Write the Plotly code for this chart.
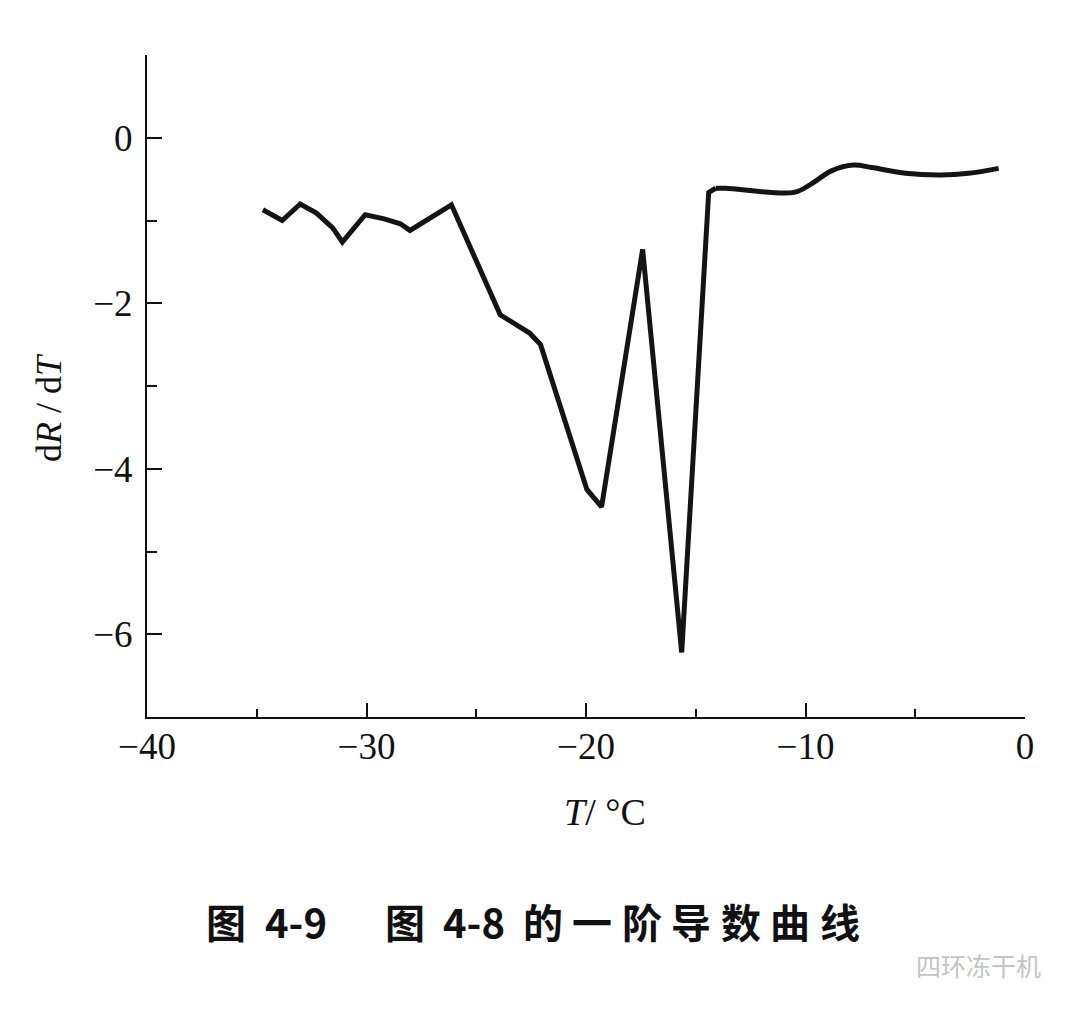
import plotly.graph_objects as go

# Jagged (linear) part of the curve
T_lin = [-34.72, -33.84, -33.02, -32.28, -31.54, -31.10, -30.06, -29.19, -28.46, -28.02,
         -26.13, -23.91, -22.57, -22.07, -19.96, -19.29, -17.42, -15.64, -14.41, -14.09]
dRdT_lin = [-0.87, -1.00, -0.80, -0.91, -1.09, -1.26, -0.93, -0.98, -1.04, -1.12,
            -0.81, -2.14, -2.36, -2.50, -4.25, -4.46, -1.35, -6.22, -0.66, -0.61]

# Smooth tail of the curve
T_smooth = [-14.09, -13.63, -10.52, -9.75, -8.82, -7.82, -6.98, -5.44, -3.85, -2.57, -1.20]
dRdT_smooth = [-0.61, -0.61, -0.66, -0.56, -0.40, -0.33, -0.36, -0.43, -0.45, -0.43, -0.37]

x_ticks = [-40, -30, -20, -10, 0]
y_ticks = [0, -2, -4, -6]

caption_parts = ["图", "4-9", "图", "4-8", "的", "一", "阶", "导", "数", "曲", "线"]
caption_centers = [225.5, 296, 405, 474, 542.5, 592, 641.5, 691, 740.5, 790, 839.5]

# figure geometry (page has an 8px body margin)
W, H = 1072, 1003
L, R, TM, B = 139, 55, 47, 294
PW, PH = W - L - R, H - TM - B


def px(xp):
    return (xp - 8 - L) / PW


def py(yp):
    return (H - B - (yp - 8)) / PH


LINE = dict(color="#141414", width=5)

fig = go.Figure()
fig.add_trace(go.Scatter(x=T_lin, y=dRdT_lin, mode="lines", line=dict(**LINE, shape="linear"),
                         showlegend=False, hoverinfo="skip"))
fig.add_trace(go.Scatter(x=T_smooth, y=dRdT_smooth, mode="lines",
                         line=dict(**LINE, shape="spline", smoothing=1.0),
                         showlegend=False, hoverinfo="skip"))

tickfont = dict(family="Liberation Serif", size=37, color="#111")


def fmt(v):
    return str(v).replace("-", "\u2212")


annotations = [
    dict(text="<i>T</i>/ °C", xref="paper", yref="paper", x=px(605), y=py(812),
         xanchor="center", yanchor="middle", showarrow=False,
         font=dict(family="Liberation Serif", size=38, color="#111")),
    dict(text="d<i>R</i> / d<i>T</i>", xref="paper", yref="paper", x=px(49), y=py(408),
         xanchor="center", yanchor="middle", showarrow=False, textangle=-90,
         font=dict(family="Liberation Serif", size=36, color="#111")),
    dict(text="四环冻干机", xref="paper", yref="paper", x=px(978), y=py(965),
         xanchor="center", yanchor="middle", showarrow=False,
         font=dict(family="Noto Sans CJK SC", size=25, color="#c4c4c4")),
]
for part, cx in zip(caption_parts, caption_centers):
    annotations.append(dict(text=f"<b>{part}</b>", xref="paper", yref="paper", x=px(cx), y=py(921),
                            xanchor="center", yanchor="middle", showarrow=False,
                            font=dict(family="Noto Sans CJK SC", size=40, color="#111")))

fig.update_layout(
    width=W, height=H,
    margin=dict(l=L, r=R, t=TM, b=B),
    paper_bgcolor="white", plot_bgcolor="white",
    font=dict(family="Liberation Serif", color="#111"),
    xaxis=dict(
        range=[-40, 0], tickvals=x_ticks, ticktext=[fmt(v) for v in x_ticks],
        showline=True, linecolor="#111", linewidth=2,
        ticks="inside", ticklen=14, tickwidth=2, tickcolor="#111",
        minor=dict(ticks="inside", ticklen=8, tickwidth=2, tickcolor="#111", dtick=5, tick0=0, showgrid=False),
        showgrid=False, zeroline=False, tickfont=tickfont, fixedrange=True,
        ticklabelstandoff=-4,
    ),
    yaxis=dict(
        range=[-7, 1], tickvals=y_ticks, ticktext=[fmt(v) for v in y_ticks],
        showline=True, linecolor="#111", linewidth=2,
        ticks="inside", ticklen=15, tickwidth=2, tickcolor="#111",
        minor=dict(ticks="inside", ticklen=10, tickwidth=2, tickcolor="#111", dtick=1, tick0=0, showgrid=False),
        showgrid=False, zeroline=False, tickfont=tickfont, fixedrange=True,
        ticklabelstandoff=5,
    ),
    annotations=annotations,
)

fig.write_html("out.html")
